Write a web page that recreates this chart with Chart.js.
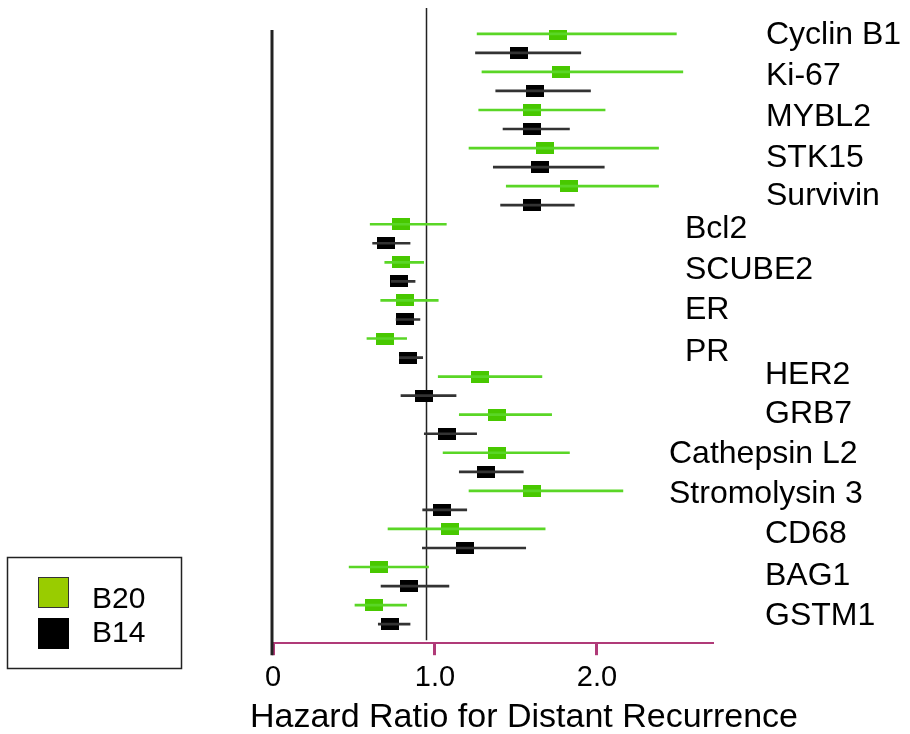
<!DOCTYPE html>
<html>
<head>
<meta charset="utf-8">
<script src="https://cdn.jsdelivr.net/npm/chart.js@4.4.1/dist/chart.umd.min.js"></script>
<style>
  html, body { margin: 0; padding: 0; background: #fff; }
  #wrap { width: 910px; height: 734px; }
</style>
</head>
<body>
<div id="wrap"><canvas id="forest"></canvas></div>
<script>
// genes, top to bottom
var genes = ['Cyclin B1', 'Ki-67', 'MYBL2', 'STK15', 'Survivin', 'Bcl2', 'SCUBE2', 'ER', 'PR',
             'HER2', 'GRB7', 'Cathepsin L2', 'Stromolysin 3', 'CD68', 'BAG1', 'GSTM1'];

// B20 hazard ratios with 95% CI
var b20HR   = [1.76, 1.78, 1.60, 1.68, 1.83, 0.79, 0.79, 0.815, 0.69, 1.28, 1.38, 1.38, 1.60, 1.09, 0.656, 0.623];
var b20Low  = [1.26, 1.29, 1.27, 1.21, 1.44, 0.60, 0.69, 0.665, 0.58, 1.02, 1.15, 1.05, 1.21, 0.71, 0.47, 0.506];
var b20High = [2.49, 2.53, 2.05, 2.38, 2.38, 1.07, 0.93, 1.02, 0.825, 1.66, 1.72, 1.83, 2.16, 1.68, 0.96, 0.825];

// B14 hazard ratios with 95% CI
var b14HR   = [1.52, 1.62, 1.60, 1.65, 1.60, 0.70, 0.78, 0.815, 0.835, 0.93, 1.076, 1.315, 1.045, 1.185, 0.84, 0.72];
var b14Low  = [1.25, 1.375, 1.42, 1.36, 1.405, 0.615, 0.73, 0.76, 0.78, 0.79, 0.934, 1.15, 0.924, 0.922, 0.667, 0.65];
var b14High = [1.90, 1.96, 1.83, 2.045, 1.86, 0.846, 0.877, 0.907, 0.924, 1.13, 1.257, 1.545, 1.196, 1.56, 1.086, 0.846];

var xTicks = [0, 1, 2];
var refValue = 0.945;   // vertical reference line
var xTitle = 'Hazard Ratio for Distant Recurrence';

var GREEN_BOX = '#48c800', GREEN_LINE = '#5ad626';
var BLACK_BOX = '#000000', BLACK_LINE = '#333333';
var AXIS_PINK = '#b03a78';
var FONT = 'Liberation Sans, Arial, sans-serif';

// row index: each gene takes two rows (B20 then B14)
function rows(offset) { return genes.map(function (g, i) { return i * 2 + offset; }); }
var rowB20 = rows(0), rowB14 = rows(1);

function boxImage(color) {
  var c = document.createElement('canvas');
  c.width = 18; c.height = 12;
  var g = c.getContext('2d');
  g.fillStyle = color;
  g.fillRect(0, 0, 18, 12);
  return c;
}

// label layout: x indent (px) and vertical position in row units
var labelX = [766, 766, 766, 766, 766, 685, 685, 685, 685, 765, 765, 669, 669, 765, 765, 765];
var labelRow = [0.07, 2.23, 4.39, 6.55, 8.5, 10.24, 12.4, 14.5, 16.7, 17.9, 19.95, 22.05, 24.2, 26.3, 28.5, 30.6];

var extras = {
  id: 'extras',
  beforeDatasetsDraw: function (chart) {
    var c = chart.ctx, xs = chart.scales.x, a = chart.chartArea;
    c.save();
    // left axis line
    c.strokeStyle = '#222';
    c.lineWidth = 3;
    c.beginPath();
    c.moveTo(xs.getPixelForValue(0) - 1, a.top);
    c.lineTo(xs.getPixelForValue(0) - 1, a.bottom + 12);
    c.stroke();
    // reference line
    c.strokeStyle = '#222';
    c.lineWidth = 1.5;
    var rx = Math.round(xs.getPixelForValue(refValue)) + 0.5;
    c.beginPath();
    c.moveTo(rx, a.top - 22);
    c.lineTo(rx, a.bottom - 3);
    c.stroke();
    c.restore();
  },
  afterDraw: function (chart) {
    var c = chart.ctx, ys = chart.scales.y;
    c.save();
    c.fillStyle = '#000';
    c.font = '32px ' + FONT;
    c.textBaseline = 'middle';
    c.textAlign = 'left';
    genes.forEach(function (g, i) {
      c.fillText(g, labelX[i], ys.getPixelForValue(labelRow[i]));
    });
    // axis title
    c.font = '34px ' + FONT;
    c.textAlign = 'center';
    c.textBaseline = 'alphabetic';
    c.fillText(xTitle, 524, 727);
    // legend
    c.strokeStyle = '#222';
    c.lineWidth = 1.5;
    c.strokeRect(7.5, 557.5, 174, 111);
    c.fillStyle = '#99cc00';
    c.fillRect(38, 577, 31, 31);
    c.strokeStyle = '#333';
    c.lineWidth = 1;
    c.strokeRect(38.5, 577.5, 30, 30);
    c.fillStyle = '#000';
    c.fillRect(38, 618, 31, 31);
    c.font = '30px ' + FONT;
    c.textAlign = 'left';
    c.textBaseline = 'middle';
    c.fillText('B20', 92, 600);
    c.fillText('B14', 92, 634);
    c.restore();
  }
};

function bars(low, high, r) {
  return low.map(function (l, i) { return { x: [l, high[i]], y: r[i] }; });
}
function pts(hr, r) {
  return hr.map(function (v, i) { return { x: v, y: r[i] }; });
}

new Chart(document.getElementById('forest'), {
  data: {
    datasets: [
      { type: 'bar', label: 'B20 CI', data: bars(b20Low, b20High, rowB20),
        backgroundColor: GREEN_LINE, barThickness: 2, grouped: false, borderSkipped: false },
      { type: 'bar', label: 'B14 CI', data: bars(b14Low, b14High, rowB14),
        backgroundColor: BLACK_LINE, barThickness: 2, grouped: false, borderSkipped: false },
      { type: 'scatter', label: 'B20', data: pts(b20HR, rowB20),
        pointStyle: boxImage(GREEN_BOX), pointRadius: 9 },
      { type: 'scatter', label: 'B14', data: pts(b14HR, rowB14),
        pointStyle: boxImage(BLACK_BOX), pointRadius: 9 }
    ]
  },
  options: {
    indexAxis: 'y',
    responsive: true,
    maintainAspectRatio: false,
    animation: false,
    layout: { padding: { left: 273, right: 198, top: 30, bottom: 34 } },
    plugins: { legend: { display: false }, tooltip: { enabled: false } },
    scales: {
      x: {
        type: 'linear',
        min: 0,
        max: 2.71,
        offset: false,
        afterBuildTicks: function (s) { s.ticks = xTicks.map(function (v) { return { value: v }; }); },
        ticks: {
          color: '#000',
          font: { family: FONT, size: 29 },
          padding: 5,
          callback: function (v) { return v === 0 ? '0' : v.toFixed(1); }
        },
        grid: { drawOnChartArea: false, drawTicks: true, tickLength: 12, color: AXIS_PINK, lineWidth: 3, offset: false },
        border: { color: AXIS_PINK, width: 2 },
        title: { display: false }
      },
      y: {
        type: 'linear',
        reverse: true,
        min: -0.2,
        max: 32,
        offset: false,
        grid: { offset: false },
        display: false
      }
    }
  },
  plugins: [extras]
});
</script>
</body>
</html>
